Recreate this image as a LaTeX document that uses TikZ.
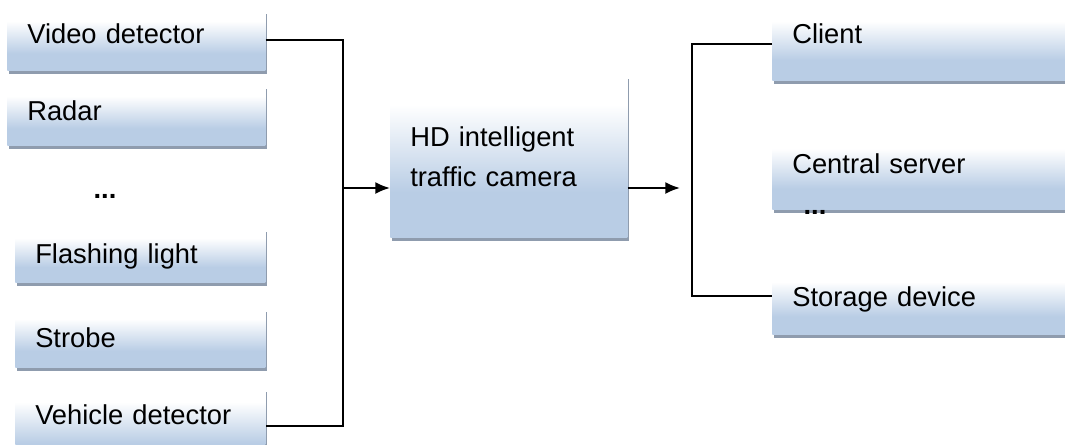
\documentclass[tikz,border=0pt]{standalone}
\usepackage{fontspec}
\setmainfont{Liberation Sans}
\usetikzlibrary{arrows.meta,shadows}

\definecolor{boxblue}{RGB}{185,205,229}
\definecolor{shadowgray}{RGB}{143,156,174}
\pgfdeclareverticalshading{blkfade}{100bp}{color(0bp)=(boxblue); color(25bp)=(boxblue); color(39bp)=(boxblue); color(66bp)=(white); color(100bp)=(white)}

\tikzset{
  blk/.style={anchor=north west, shade, shading=blkfade, inner xsep=15pt, align=left,
    drop shadow={shadow xshift=1.5pt, shadow yshift=-3pt, fill=shadowgray, opacity=1},
    font=\fontsize{20.5}{30}\selectfont},
  lbl/.style={text height=14.7pt, text depth=#1},
  dots/.style={anchor=base, font=\fontsize{20.5}{30}\selectfont\bfseries},
  link/.style={line width=1.5pt}
}

\begin{document}
\begin{tikzpicture}[x=0.75pt,y=-0.75pt,>={Latex[length=11pt,width=9pt]}]
	\useasboundingbox (0,0) rectangle (1065,444);
	% inputs
	\node[blk,lbl=10.5pt,text width=163.5pt,minimum height=45pt] (video) at (7,10) {Video detector};
	\node[blk,lbl=7.5pt,text width=163.5pt,minimum height=45pt] (radar) at (7,85) {Radar};
	\node[dots] (dotsl) at (105,198) {...};
	\node[blk,lbl=3pt,text width=157.5pt,minimum height=40.5pt] (flash) at (15,228) {Flashing light};
	\node[blk,lbl=0pt,text width=157.5pt,minimum height=44.25pt] (strobe) at (15,308) {Strobe};
	\node[blk,lbl=18pt,text width=157.5pt,minimum height=57pt] (vehicle) at (15,388) {Vehicle detector};
	% camera
	\node[blk,text width=147.75pt,minimum height=121.5pt] (cam) at (390,75) {HD intelligent\\traffic camera};
	% outputs
	\node[blk,lbl=16.5pt,text width=225pt,minimum height=54pt] (client) at (772,8) {Client};
	\node[blk,lbl=13.5pt,text width=225pt,minimum height=55.5pt] (central) at (772,135) {Central server};
	\node[dots] (dotsr) at (815,214) {...};
	\node[blk,lbl=9pt,text width=225pt,minimum height=48pt] (storage) at (772,270) {Storage device};
	% wires
	\coordinate (join) at (343,188);
	\coordinate (split) at (692,188);
	\coordinate (tip) at (680,188);
	\draw[link] (video.east) -| (join) |- (vehicle.east);
	\draw[link,->] (join) -- (join -| cam.west);
	\draw[link,->] (join -| cam.east) -- (tip);
	\draw[link] (client.west) -| (split) |- ([yshift=4.5pt]storage.west);
\end{tikzpicture}
\end{document}
